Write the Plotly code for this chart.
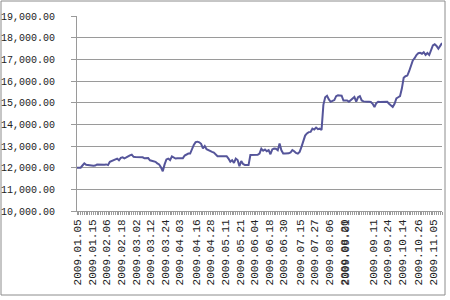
import plotly.graph_objects as go

values = [
    12000, 12000, 12000, 12100, 12200, 12130, 12110, 12100, 12100, 12090,
    12100, 12150, 12140, 12150, 12150, 12140, 12150, 12120, 12270, 12310,
    12340, 12400, 12420, 12340, 12450, 12480, 12430, 12470, 12530, 12570,
    12600, 12500, 12490, 12480, 12480, 12470, 12480, 12430, 12420, 12440,
    12340, 12320, 12280, 12270, 12200, 12150, 12020, 11830, 12150, 12380,
    12420, 12350, 12520, 12480, 12420, 12430, 12420, 12410, 12430, 12560,
    12600, 12650, 12650, 12880, 13050, 13180, 13200, 13170, 13100, 12890,
    13000, 12850, 12800, 12760, 12730, 12700, 12600, 12530, 12530, 12530,
    12530, 12530, 12530, 12420, 12270, 12340, 12220, 12420, 12350, 12070,
    12300, 12170, 12120, 12120, 12120, 12580, 12580, 12580, 12580, 12590,
    12650, 12880, 12780, 12840, 12760, 12810, 12620, 12840, 12880, 12870,
    12800, 13110, 12800, 12650, 12650, 12650, 12660, 12700, 12810, 12760,
    12680, 12650, 12730, 12960, 13230, 13480, 13580, 13640, 13650, 13800,
    13760, 13850, 13780, 13800, 13740, 14900, 15250, 15320, 15150, 15040,
    15080, 15120, 15300, 15340, 15330, 15320, 15100, 15090, 15100, 15040,
    15100, 15200, 15260, 15050, 15250, 15300, 15100, 15060, 15040, 15040,
    15040, 15030, 14950, 14800, 14980, 15040, 15030, 15040, 15040, 15030,
    15040, 14950, 14880, 14800, 14950, 15200, 15250, 15300, 15650, 16150,
    16220, 16250, 16450, 16680, 16950, 17050, 17200, 17280, 17300, 17260,
    17330, 17200, 17290, 17200, 17450, 17640, 17700, 17620, 17490, 17640,
    17750,
]

tick_text = [
    "2009.01.05", "2009.01.15", "2009.02.06", "2009.02.18", "2009.03.02",
    "2009.03.12", "2009.03.24", "2009.04.03", "2009.04.16", "2009.04.28",
    "2009.05.11", "2009.05.21", "2009.06.04", "2009.06.18", "2009.06.30",
    "2009.07.15", "2009.07.27", "2009.08.06", "2009.08.20", "2009.09.01",
    "2009.09.11", "2009.09.24", "2009.10.14", "2009.10.26", "2009.11.05",
]
tick_index = [
    2, 10, 18, 26, 34, 42, 50, 58, 67, 75, 83, 91, 99, 107, 115,
    124, 132, 140, 148, 149, 164, 172, 180, 189, 197,
]

y_min, y_max, y_step = 10000, 19000, 1000

W, H = 450, 300
L, R, T, B = 77, 8, 16, 89
pw, ph = W - L - R, H - T - B

line_col = "#55559a"
grid_col = "#9a9a9a"

fig = go.Figure(
    go.Scatter(
        x=list(range(len(values))),
        y=values,
        mode="lines",
        line=dict(color=line_col, width=2),
        hoverinfo="skip",
    )
)

fig.update_layout(
    width=W,
    height=H,
    margin=dict(l=L, r=R, t=T, b=B, pad=0),
    paper_bgcolor="white",
    plot_bgcolor="white",
    showlegend=False,
    font=dict(family="Liberation Mono", size=10, color="black"),
    shapes=[
        dict(
            type="rect",
            xref="paper",
            yref="paper",
            x0=(1 - L) / pw,
            x1=(445 - L) / pw,
            y0=((H - B) - 295) / ph,
            y1=((H - B) - 1) / ph,
            line=dict(color="#8c8c8c", width=1),
            fillcolor="rgba(0,0,0,0)",
            layer="below",
        )
    ],
)

fig.update_xaxes(
    automargin=False,
    range=[0, len(values) - 1],
    tickmode="array",
    tickvals=tick_index,
    ticktext=tick_text,
    tickangle=-90,
    ticklabelshift=-3,
    showgrid=False,
    zeroline=False,
    showline=True,
    linecolor=grid_col,
    linewidth=1,
    ticks="outside",
    ticklen=3,
    tickcolor=grid_col,
    minor=dict(
        tickmode="linear",
        tick0=0,
        dtick=1,
        ticks="outside",
        ticklen=3,
        tickcolor=grid_col,
        showgrid=False,
    ),
    tickfont=dict(family="Liberation Mono", size=11, color="#222222"),
)

fig.update_yaxes(
    automargin=False,
    range=[y_min, y_max],
    tick0=y_min,
    dtick=y_step,
    tickformat=",.2f",
    showgrid=True,
    gridcolor=grid_col,
    gridwidth=1,
    zeroline=False,
    showline=True,
    linecolor=grid_col,
    ticks="outside",
    ticklen=5,
    tickcolor=grid_col,
    ticklabelstandoff=14,
    tickfont=dict(family="Liberation Mono", size=10, color="#222222"),
)

fig.write_html("out.html")
